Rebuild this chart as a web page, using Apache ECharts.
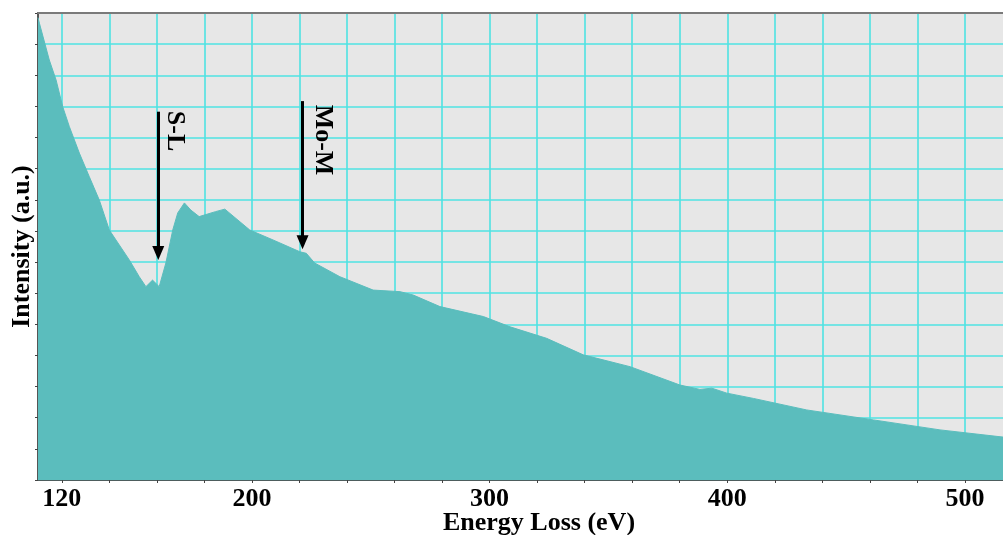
<!DOCTYPE html>
<html><head><meta charset="utf-8">
<script src="https://cdn.jsdelivr.net/npm/echarts@6/dist/echarts.min.js"></script>
<style>html,body{margin:0;padding:0;background:#fff}#c{width:1003px;height:535px}</style>
</head><body><div id="c"></div>
<script>
// Energy loss (eV) and intensity (a.u.)
const energy = [110, 110.6, 114.75, 117.6, 120.4, 123.2, 127.4, 131.6, 135.8, 140.0, 142.8, 148.4, 152.6, 155.4, 158.2, 161.0, 163.8, 166.7, 168.8, 171.6, 174.3, 177.8, 184.7, 188.6, 199.1, 208.9, 220.2, 222.9, 226.4, 237.0, 251.0, 262.3, 267.9, 279.1, 297.4, 308.6, 324.0, 339.4, 359.1, 380.1, 388.5, 393.5, 399.8, 411.0, 433.4, 461.5, 489.5, 517];
const intensity = [14.85, 14.67, 13.49, 12.85, 11.99, 11.35, 10.50, 9.74, 8.99, 8.03, 7.71, 7.07, 6.53, 6.21, 6.42, 6.21, 6.97, 8.03, 8.58, 8.90, 8.67, 8.46, 8.62, 8.70, 8.03, 7.71, 7.33, 7.28, 6.97, 6.53, 6.10, 6.05, 5.94, 5.57, 5.25, 4.92, 4.55, 4.02, 3.64, 3.05, 2.91, 2.95, 2.79, 2.62, 2.25, 1.93, 1.61, 1.37];
const xTickValues = [120, 140, 160, 180, 200, 220, 240, 260, 280, 300, 320, 340, 360, 380, 400, 420, 440, 460, 480, 500];
const xLabelValues = [120, 200, 300, 400, 500];
// Edge annotations: arrow x, arrow top, arrow end, label position
const edgeNames = ['S-L', 'Mo-M'];
const edgeEnergy = [160.6, 221.3];
const arrowTop = [11.83, 12.17];
const arrowEnd = [7.29, 7.64];
const labelX = [167.6, 229.9];
const labelY = [11.21, 10.92];

const FONT = '"Liberation Serif", "Times New Roman", serif';
const chart = echarts.init(document.getElementById('c'));
const seriesData = energy.map((e, i) => [e, intensity[i]]);

chart.setOption({
  animation: false,
  grid: {left: 38, top: 13, right: -2, bottom: 55, outerBoundsMode: 'none', containLabel: false, show: true, backgroundColor: '#e7e7e7', borderColor: '#777', borderWidth: 2},
  xAxis: [{
    type: 'value', min: 110, max: 516.85,
    name: 'Energy Loss (eV)', nameLocation: 'middle', nameGap: 30, nameMoveOverlap: false,
    nameTextStyle: {fontFamily: FONT, fontWeight: 'bold', fontSize: 26, color: '#000', padding: [0, 0, 0, 35]},
    axisLine: {show: true, lineStyle: {color: '#4d5d5d', width: 2}},
    axisTick: {show: true, length: 3, customValues: xTickValues, lineStyle: {color: '#444', width: 1}},
    axisLabel: {customValues: xLabelValues, margin: 6, fontFamily: FONT, fontWeight: 'bold', fontSize: 26, color: '#000'},
    splitLine: {show: true, lineStyle: {color: '#4fe3e3', width: 1.6}}
  }, {
    type: 'value', min: 110, max: 516.85, position: 'top', z: 5,
    axisLine: {show: true, lineStyle: {color: '#7a7a7a', width: 2}},
    axisTick: {show: false}, axisLabel: {show: false}, splitLine: {show: false}
  }],
  yAxis: {
    type: 'value', min: 0, max: 15, interval: 1,
    name: 'Intensity (a.u.)', nameLocation: 'middle', nameGap: 3, nameMoveOverlap: false,
    nameTextStyle: {fontFamily: FONT, fontWeight: 'bold', fontSize: 26, color: '#000'},
    axisLine: {show: true, lineStyle: {color: '#555', width: 2}},
    axisTick: {show: true, length: 3, lineStyle: {color: '#444', width: 1}},
    axisLabel: {show: false},
    splitLine: {show: true, lineStyle: {color: '#4fe3e3', width: 1.6}}
  },
  series: [{
    type: 'line', data: seriesData, showSymbol: false, smooth: false,
    lineStyle: {color: '#5bbdbd', width: 1},
    areaStyle: {color: '#5bbdbd', opacity: 1},
    markLine: {
      silent: true, symbol: ['none', 'triangle'], symbolSize: [12, 14],
      lineStyle: {color: '#000', width: 3, type: 'solid'},
      label: {show: false},
      data: edgeEnergy.map((e, i) => [{coord: [e, arrowTop[i]]}, {coord: [e, arrowEnd[i]]}])
    },
    markPoint: {
      silent: true, symbol: 'circle', symbolSize: 0,
      data: edgeNames.map((n, i) => ({
        coord: [labelX[i], labelY[i]],
        label: {show: true, formatter: n, position: 'inside', rotate: -90, fontFamily: FONT, fontWeight: 'bold', fontSize: 26, color: '#000'}
      }))
    }
  }]
});
</script></body></html>
